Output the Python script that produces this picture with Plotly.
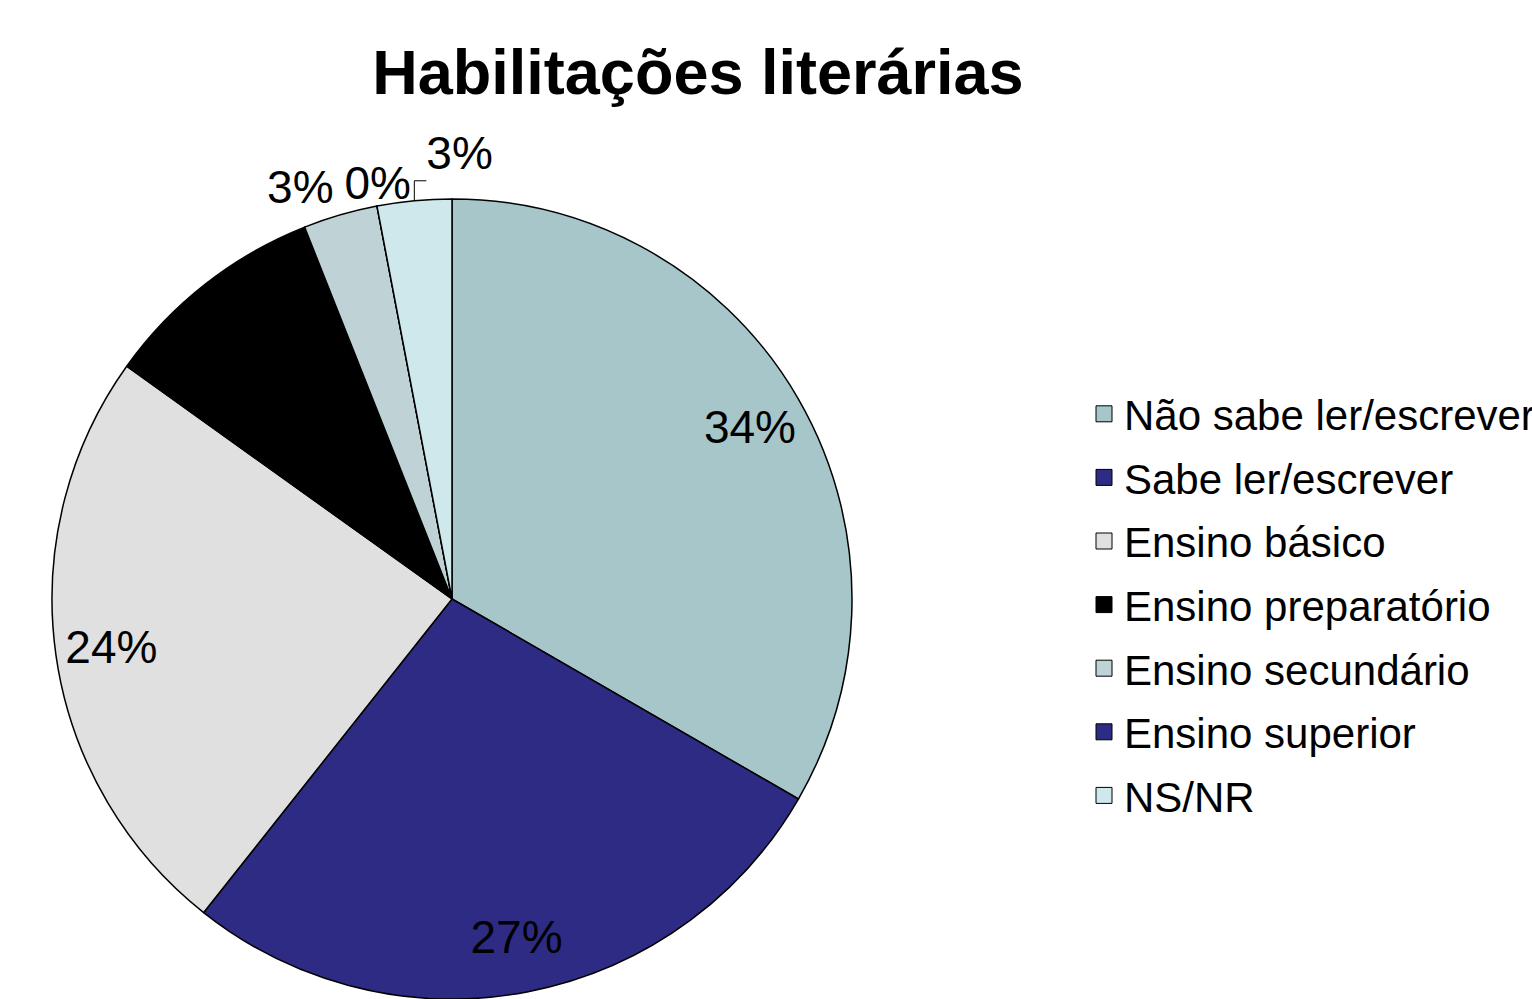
import math
import plotly.graph_objects as go

# ---- data ----
categories = ["Não sabe ler/escrever", "Sabe ler/escrever", "Ensino básico",
              "Ensino preparatório", "Ensino secundário", "Ensino superior", "NS/NR"]
shares = [33.3, 27.3, 24.2, 9.1, 3.0, 0.0, 3.0]          # slice sizes
label_text = ["34%", "27%", "24%", "9%", "3%", "0%", "3%"]  # printed labels
colors = ["#A6C6C9", "#2E2B85", "#E0E0E0", "#000000", "#BFD3D6", "#2E2B85", "#CFE8EC"]
title_text = "Habilitações literárias"

W, H = 1532, 999
FONT = "Liberation Sans, Arial, sans-serif"

# pie geometry (pixels)
CX, CY, R = 452, 599, 400
dom_x = [(CX - R) / W, (CX + R) / W]
dom_y = [max(0.0, (H - CY - R) / H), (H - CY + R) / H]

fig = go.Figure()

# main pie (filled slices)
fig.add_trace(go.Pie(
    labels=categories, values=shares, sort=False, direction="clockwise", rotation=0,
    marker=dict(colors=colors, line=dict(color="black", width=1.5)),
    textinfo="none", hoverinfo="label+percent", showlegend=False,
    domain=dict(x=dom_x, y=dom_y),
))

# transparent ring pie used only to place the big labels near the rim
inside_idx = [0, 1, 2, 3]
ring_text = [label_text[i] if i in inside_idx else "" for i in range(len(categories))]
fig.add_trace(go.Pie(
    labels=categories, values=shares, sort=False, direction="clockwise", rotation=0,
    hole=0.72,
    marker=dict(colors=["rgba(0,0,0,0)"] * len(categories), line=dict(width=0)),
    text=ring_text, textinfo="text", textposition="inside",
    insidetextorientation="horizontal",
    textfont=dict(family=FONT, size=46, color="black"),
    hoverinfo="skip", showlegend=False,
    domain=dict(x=dom_x, y=dom_y),
))

# small slices: labels just outside the rim, on a cartesian overlay in pie-radius units
total = sum(shares)
mid_angles = []
acc = 0.0
for s in shares:
    mid_angles.append(360.0 * (acc + s / 2) / total)
    acc += s


def rim(i, rr=1.0):
    a = math.radians(mid_angles[i])
    return rr * math.sin(a), rr * math.cos(a)


outside_idx = [4, 5]
outside_r = [1.06, 0.99]
outside_pos = ["middle left", "top center"]
pts = [rim(i, rr) for i, rr in zip(outside_idx, outside_r)]
fig.add_trace(go.Scatter(
    x=[p[0] for p in pts], y=[p[1] for p in pts],
    text=[label_text[i] for i in outside_idx], mode="text", textposition=outside_pos,
    textfont=dict(family=FONT, size=46, color="black"),
    hoverinfo="skip", showlegend=False, cliponaxis=False,
))

# NS/NR label with an elbow leader line
leader_idx = 6
x0, y0 = rim(leader_idx)
lx = [x0, x0, x0 + 0.03]
ly = [y0, y0 + 0.05, y0 + 0.05]
fig.add_trace(go.Scatter(
    x=lx, y=ly, mode="lines", line=dict(color="black", width=1),
    hoverinfo="skip", showlegend=False, cliponaxis=False,
))
fig.add_trace(go.Scatter(
    x=[lx[-1]], y=[ly[-1]], text=[label_text[leader_idx]], mode="text",
    textposition="top right", textfont=dict(family=FONT, size=46, color="black"),
    hoverinfo="skip", showlegend=False, cliponaxis=False,
))

# legend entries
for i, (name, c) in enumerate(zip(categories, colors)):
    fig.add_trace(go.Scatter(
        x=[None], y=[None], mode="markers", name=name, legendgroup=f"g{i}",
        marker=dict(symbol="square", size=16, color=c, line=dict(color="black", width=1)),
        hoverinfo="skip",
    ))

fig.update_layout(
    width=W, height=H,
    margin=dict(l=0, r=0, t=0, b=0, autoexpand=False),
    paper_bgcolor="white", plot_bgcolor="rgba(0,0,0,0)",
    font=dict(family=FONT, color="black"),
    title=dict(text=f"<b>{title_text}</b>", x=698 / W, xanchor="center",
               y=1 - 72 / H, yanchor="middle", yref="container",
               font=dict(family=FONT, size=63, color="black")),
    xaxis=dict(visible=False, range=[-CX / R, (W - CX) / R], fixedrange=True),
    yaxis=dict(visible=False, range=[-(H - CY) / R, CY / R], fixedrange=True),
    legend=dict(x=1084 / W, xanchor="left", y=1 - 380 / H, yanchor="top",
                font=dict(family=FONT, size=42, color="black"),
                tracegroupgap=6, bgcolor="rgba(0,0,0,0)", borderwidth=0,
                itemsizing="trace"),
    showlegend=True,
)

fig.write_html(
    "out.html",
    config={"displayModeBar": False},
    post_script="document.body.style.margin='0';document.body.style.overflow='hidden';",
)
